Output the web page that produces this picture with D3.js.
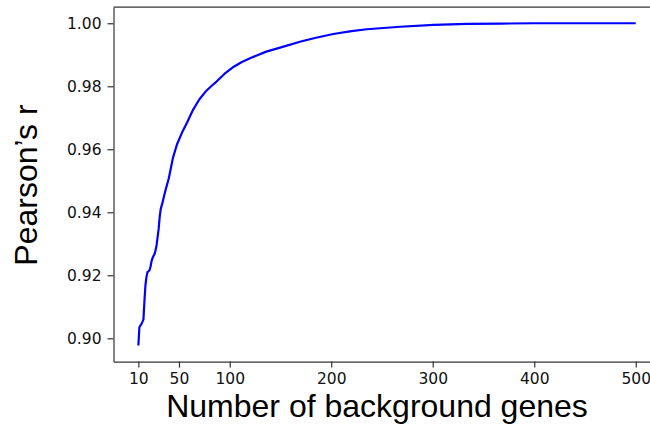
<!DOCTYPE html>
<html>
<head>
<meta charset="utf-8">
<script src="https://cdn.jsdelivr.net/npm/d3@7"></script>
<style>
  body { margin: 0; background: #fff; overflow: hidden; }
</style>
</head>
<body>
<div id="canvas"></div>
<script>
/* global d3 */

const nGenes = [10, 11, 12, 13, 14, 15, 16, 17, 18, 19, 20, 21, 22, 23, 24, 25, 26, 27, 28, 29,
  30, 31, 32, 33, 34, 35, 37, 40, 44, 48, 53, 58, 64, 70, 77, 82, 87, 95, 104, 112, 120,
  136, 153, 170, 185, 202, 220, 235, 268, 301, 334, 367, 400, 450, 500]
const pearsonR = [0.8977, 0.9035, 0.9040, 0.9045, 0.9052, 0.9060, 0.9120, 0.9170, 0.9195, 0.9210,
  0.9213, 0.9216, 0.9228, 0.9245, 0.9255, 0.9262, 0.9268, 0.9280, 0.9297, 0.9322,
  0.9348, 0.9385, 0.9410, 0.9422, 0.9433, 0.9448, 0.9473, 0.9508, 0.9572, 0.9615,
  0.9653, 0.9685, 0.9726, 0.9758, 0.9786, 0.9801, 0.9815, 0.9840, 0.9862, 0.9877, 0.9889,
  0.9910, 0.9926, 0.9942, 0.9954, 0.9966, 0.9975, 0.9981, 0.9989, 0.9995, 0.9998,
  0.9999, 1.0000, 1.0000, 1.0000]

const xTicks = [10, 50, 100, 200, 300, 400, 500]
const yTicks = [0.90, 0.92, 0.94, 0.96, 0.98, 1.00]

const width = 650
const height = 428
const plot = {left: 113.5, right: 660.6, top: 7.2, bottom: 361.6}

var svg = d3.select('#canvas')
  .append('svg')
  .attr('width', width)
  .attr('height', height)

const x = d3.scaleLinear()
  .domain([-14.5, 524.5])
  .range([plot.left, plot.right])

const y = d3.scaleLinear()
  .domain([0.8926, 1.0051])
  .range([plot.bottom, plot.top])

const tickFont = 'DejaVu Sans, sans-serif'
const labelFont = 'Liberation Sans, Arial, sans-serif'

// x axis
const xAxis = svg.append('g')
  .attr('transform', 'translate(0,' + plot.bottom + ')')
  .call(d3.axisBottom(x).tickValues(xTicks).tickFormat(d3.format('d')).tickSize(6).tickPadding(5).tickSizeOuter(0))
xAxis.select('.domain').attr('stroke', '#333').attr('stroke-width', 1.2)
xAxis.selectAll('.tick line').attr('stroke', '#333').attr('stroke-width', 1.2)
xAxis.selectAll('.tick text')
  .attr('font-family', tickFont)
  .attr('font-size', '15.5px')
  .attr('fill', '#111')

// y axis
const yAxis = svg.append('g')
  .attr('transform', 'translate(' + plot.left + ',0)')
  .call(d3.axisLeft(y).tickValues(yTicks).tickFormat(d3.format('.2f')).tickSize(6).tickPadding(6).tickSizeOuter(0))
yAxis.select('.domain').attr('stroke', '#333').attr('stroke-width', 1.2)
yAxis.selectAll('.tick line').attr('stroke', '#333').attr('stroke-width', 1.2)
yAxis.selectAll('.tick text')
  .attr('font-family', tickFont)
  .attr('font-size', '15.5px')
  .attr('fill', '#111')

// top spine
svg.append('line')
  .attr('x1', plot.left)
  .attr('x2', plot.right)
  .attr('y1', plot.top)
  .attr('y2', plot.top)
  .attr('stroke', '#333')
  .attr('stroke-width', 1.2)

const points = nGenes.map((n, i) => [n, pearsonR[i]])

svg.append('path')
  .datum(points)
  .attr('fill', 'none')
  .attr('stroke', '#0000ff')
  .attr('stroke-width', 2.2)
  .attr('stroke-linejoin', 'round')
  .attr('d', d3.line()
    .x(d => x(d[0]))
    .y(d => y(d[1])))

svg.append('text')
  .text('Number of background genes')
  .attr('x', 377)
  .attr('y', 417)
  .attr('text-anchor', 'middle')
  .attr('font-family', labelFont)
  .attr('font-size', '32px')
  .attr('fill', '#000')

svg.append('text')
  .text('Pearson’s r')
  .attr('transform', 'translate(37,185) rotate(-90)')
  .attr('text-anchor', 'middle')
  .attr('font-family', labelFont)
  .attr('font-size', '32px')
  .attr('fill', '#000')
</script>
</body>
</html>
